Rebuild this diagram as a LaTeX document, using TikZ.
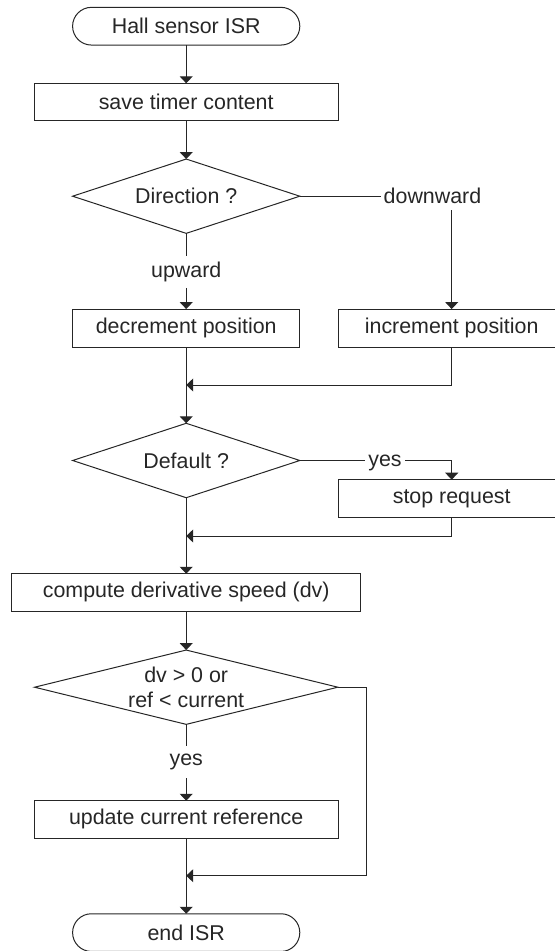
\documentclass[tikz,border=0pt]{standalone}
\usepackage{fontspec}
\setmainfont{Liberation Sans}
\usetikzlibrary{shapes.geometric,arrows.meta}
\definecolor{ink}{HTML}{262626}

\begin{document}
\begin{tikzpicture}[x=1bp,y=-1bp,
  every node/.style={font=\fontsize{21.4bp}{25bp}\selectfont, text=ink},
  line/.style={draw=ink, line width=1bp},
  flow/.style={line, -{Triangle[width=13bp,length=7bp]}},
  terminal/.style={line, rectangle, rounded corners=18.8bp, minimum width=227.2bp,
    minimum height=37.7bp, inner sep=0pt, outer sep=0pt},
  proc/.style={line, rectangle, minimum height=37.6bp, inner sep=0pt, outer sep=0pt},
  decision/.style={line, diamond, inner sep=0pt, outer sep=0pt},
  tag/.style={inner xsep=3bp, inner ysep=6bp}]

\useasboundingbox (0,0) rectangle (555,951);
\clip (0,0) rectangle (555,951);

% main column
\node[terminal] (start) at (186.2,26.2) {Hall sensor ISR};
\node[proc, minimum width=303.7bp, minimum height=37bp] (save) at (186.2,101.8) {save timer content};
\node[decision, minimum width=227.2bp, minimum height=74.3bp] (dir) at (186.2,196.2) {};
\node (dirtext) at (dir.center) {Direction ?};
\node[tag] (dwn) at (432.5,196.2) {downward};
\node[tag] (upw) at (186.2,271.7) {upward};
\node[proc, minimum width=227.2bp, minimum height=38.3bp] (dec) at (186.2,328.2) {decrement position};
\node[proc, minimum width=227.2bp, minimum height=38.3bp] (inc) at (451.7,328.2) {increment position};

\node[decision, minimum width=227.2bp, minimum height=74.4bp] (def) at (186.2,460.5) {};
\node (deftext) at (def.center) {Default ?};
\node[tag] (yesA) at (385,463.2) {yes};
\node[proc, minimum width=227.2bp] (stop) at (451.7,498.5) {stop request};

\node[proc, minimum width=348.7bp, minimum height=37.3bp] (comp) at (186.2,592.4) {compute derivative speed (dv)};
\node[decision, minimum width=303.3bp, minimum height=74.3bp] (cmp) at (186.2,687.2) {};
\node[align=center] (cmptext) at (cmp.center) {dv > 0 or\\ref < current};
\node[tag, inner ysep=8bp] (yesB) at (186.2,762.3) {yes};
\node[proc, minimum width=303.7bp, minimum height=37.3bp] (upd) at (186.2,819.4) {update current reference};
\node[terminal] (finish) at (186.2,932.6) {end ISR};

% junction points on the main line
\coordinate (m1) at (186.2,385);
\coordinate (m2) at (186.2,536);
\coordinate (m3) at (186.2,875.7);
\coordinate (loop) at (366.4,687.2);

% connectors
\draw[flow] (start) -- (save);
\draw[flow] (save) -- (dir);
\draw[line] (dir.east) -- (dwn.west);
\draw[flow] (dwn.south -| inc.north) -- (inc.north);
\draw[line] (dir.south) -- (upw.north);
\draw[flow] (upw.south) -- (dec.north);
\draw[flow] (inc.south) |- (m1);
\draw[flow] (dec.south) -- (def.north);
\draw[line] (def.east) -- (def.east -| yesA.west);
\draw[flow] (def.east -| yesA.east) -| (stop.north);
\draw[flow] (stop.south) |- (m2);
\draw[flow] (def.south) -- (comp.north);
\draw[flow] (comp.south) -- (cmp.north);
\draw[line] (cmp.south) -- (yesB.north);
\draw[flow] (yesB.south) -- (upd.north);
\draw[flow] (cmp.east) -- (loop) |- (m3);
\draw[flow] (upd.south) -- (finish.north);
\end{tikzpicture}
\end{document}
